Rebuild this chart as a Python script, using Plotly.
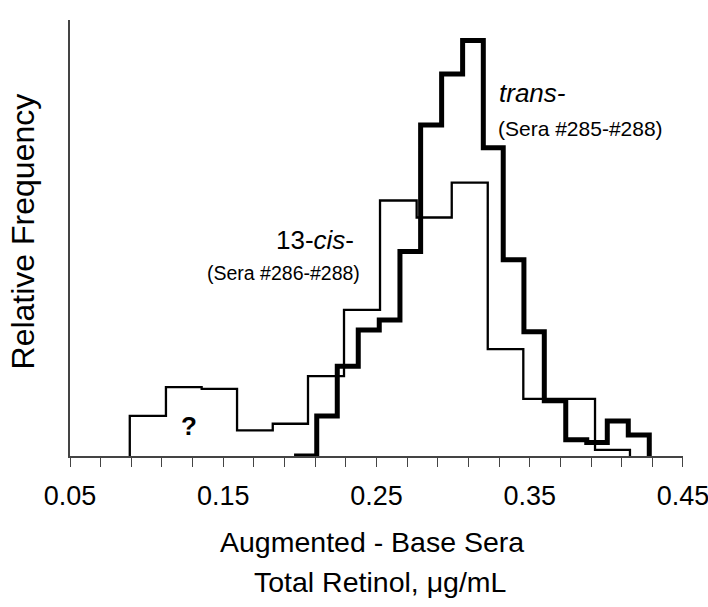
import plotly.graph_objects as go

# 13-cis- (Sera #286-#288): bin edges and relative frequencies (thin line)
cis_edges = [0.089, 0.1126, 0.1359, 0.159, 0.1823, 0.2053, 0.2288, 0.2523,
             0.2762, 0.2991, 0.3226, 0.3458, 0.3691, 0.3926, 0.4154]
cis_freq = [0.092, 0.158, 0.154, 0.059, 0.074, 0.183, 0.335, 0.586,
            0.547, 0.627, 0.245, 0.131, 0.131, 0.014]

# trans- (Sera #285-#288): bin edges and relative frequencies (thick line)
trans_edges = [0.1962, 0.2110, 0.2244, 0.2381, 0.2518, 0.2653, 0.2788, 0.2925,
               0.3062, 0.3197, 0.3327, 0.3462, 0.3595, 0.3735, 0.3872, 0.4006,
               0.4143, 0.4280]
trans_freq = [0.0, 0.092, 0.206, 0.289, 0.312, 0.469, 0.759, 0.876, 0.953,
              0.707, 0.450, 0.285, 0.127, 0.037, 0.031, 0.080, 0.048]

tick_vals = [0.05, 0.07, 0.09, 0.11, 0.13, 0.15, 0.17, 0.19, 0.21, 0.23, 0.25,
             0.27, 0.29, 0.31, 0.33, 0.35, 0.37, 0.39, 0.41, 0.43, 0.45]
tick_labels = ["0.05", "", "", "", "", "0.15", "", "", "", "", "0.25",
               "", "", "", "", "0.35", "", "", "", "", "0.45"]

FONT = "Liberation Sans, Arial, sans-serif"


def step_xy(edges, freq):
    xs = [edges[0]] + list(edges) + [edges[-1]]
    ys = [0.0] + list(freq) + [freq[-1], 0.0]
    return xs, ys


fig = go.Figure()
x1, y1 = step_xy(cis_edges, cis_freq)
fig.add_trace(go.Scatter(x=x1, y=y1, mode="lines", line_shape="hv",
                         line=dict(color="black", width=2.3),
                         showlegend=False, hoverinfo="skip"))
x2, y2 = step_xy(trans_edges, trans_freq)
fig.add_trace(go.Scatter(x=x2, y=y2, mode="lines", line_shape="hv",
                         line=dict(color="black", width=5),
                         showlegend=False, hoverinfo="skip"))

fig.update_layout(
    width=708, height=607,
    margin=dict(l=70, r=25, t=20, b=151),
    plot_bgcolor="white", paper_bgcolor="white",
    font=dict(family=FONT, color="black"),
    xaxis=dict(range=[0.04999, 0.45001], tickmode="array", tickvals=tick_vals,
               ticktext=tick_labels, ticks="outside", ticklen=9, tickwidth=1.3,
               tickcolor="#444", showline=True, linecolor="#444", linewidth=1.5,
               showgrid=False, zeroline=False, ticklabelstandoff=6,
               ticklabeloverflow="allow", automargin=False,
               tickfont=dict(size=27, family=FONT, color="black")),
    yaxis=dict(range=[0, 1], showticklabels=False, ticks="", showline=True,
               linecolor="#444", linewidth=1.5, showgrid=False, zeroline=False),
)

# axis titles
fig.add_annotation(x=0.492, y=-0.198, xref="paper", yref="paper",
                   text="Augmented - Base Sera", showarrow=False,
                   xanchor="center", yanchor="middle",
                   font=dict(size=28.5, family=FONT, color="black"))
fig.add_annotation(x=0.506, y=-0.290, xref="paper", yref="paper",
                   text="Total Retinol, μg/mL", showarrow=False,
                   xanchor="center", yanchor="middle",
                   font=dict(size=28.5, family=FONT, color="black"))
fig.add_annotation(x=-0.0767, y=0.515, xref="paper", yref="paper",
                   text="Relative Frequency", showarrow=False, textangle=-90,
                   xanchor="center", yanchor="middle",
                   font=dict(size=32, family=FONT, color="black"))

# series labels
fig.add_annotation(x=0.3286, y=0.833, xref="x", yref="y", text="<i>trans-</i>",
                   showarrow=False, xanchor="left", yanchor="middle",
                   font=dict(size=26, family=FONT, color="black"))
fig.add_annotation(x=0.3283, y=0.752, xref="x", yref="y", text="(Sera #285-#288)",
                   showarrow=False, xanchor="left", yanchor="middle",
                   font=dict(size=21, family=FONT, color="black"))
fig.add_annotation(x=0.2364, y=0.495, xref="x", yref="y", text="13-<i>cis</i>-",
                   showarrow=False, xanchor="right", yanchor="middle",
                   font=dict(size=26, family=FONT, color="black"))
fig.add_annotation(x=0.2403, y=0.42, xref="x", yref="y", text="(Sera #286-#288)",
                   showarrow=False, xanchor="right", yanchor="middle",
                   font=dict(size=19.5, family=FONT, color="black"))
fig.add_annotation(x=0.1278, y=0.068, xref="x", yref="y", text="<b>?</b>",
                   showarrow=False, xanchor="center", yanchor="middle",
                   font=dict(size=26, family=FONT, color="black"))

fig.write_html("out.html")
